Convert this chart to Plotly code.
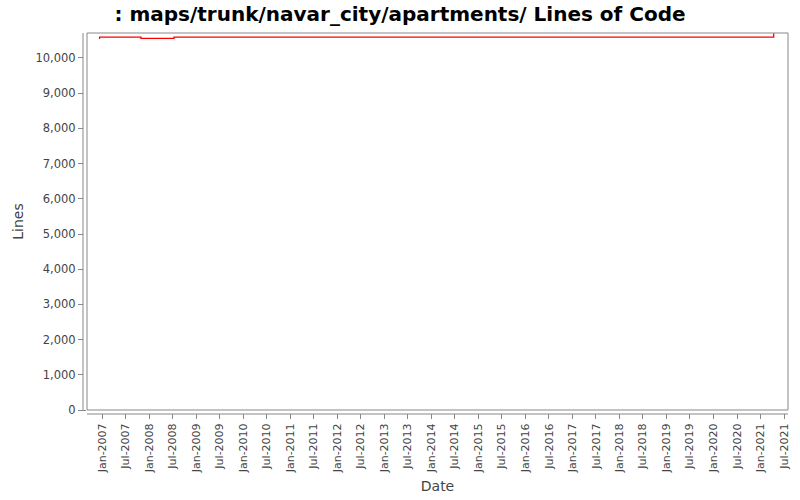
import plotly.graph_objects as go

# Lines of code history
dates = ["2006-12-05", "2006-12-10", "2007-10-27", "2008-07-10", "2021-04-12"]
lines = [10560, 10590, 10560, 10590, 10705]

tick_vals = [f"{y}-{m:02d}-01" for y in range(2007, 2022) for m in (1, 7)]
y_ticks = list(range(0, 11000, 1000))

AX = "#888888"
TXT = "#444444"
FONT = "DejaVu Sans"

fig = go.Figure()
fig.add_trace(go.Scatter(
    x=dates, y=lines, mode="lines",
    line=dict(color="#ff0000", width=1.3, shape="hv"),
    showlegend=False, hoverinfo="x+y",
))

fig.update_layout(
    width=800, height=500,
    margin=dict(l=87, r=12, t=33, b=90, autoexpand=False),
    paper_bgcolor="white", plot_bgcolor="white",
    font=dict(family=FONT, color=TXT),
    title=dict(
        text="<b>: maps/trunk/navar_city/apartments/ Lines of Code</b>",
        x=0.5, xanchor="center", y=0.972, yanchor="middle",
        font=dict(family=FONT, size=20, color="black"),
    ),
)

fig.update_xaxes(
    type="date", range=["2006-09-03", "2021-08-01"],
    tickvals=tick_vals, tickformat="%b-%Y", tickangle=-90,
    ticks="outside", ticklen=8, tickcolor=AX,
    tickfont=dict(size=11, color=TXT), automargin=False,
    showgrid=False, zeroline=False, showline=False,
    title=dict(text="Date", font=dict(size=14, color=TXT), standoff=8),
)
fig.update_yaxes(
    range=[0, 10710],
    tickvals=y_ticks, tickformat=",d",
    ticks="outside", ticklen=8, tickcolor=AX,
    tickfont=dict(size=11.5, color=TXT), automargin=False,
    showgrid=False, zeroline=False, showline=False,
    title=dict(text="Lines", font=dict(size=14, color=TXT), standoff=8),
)

# plot border and offset axis lines (JFreeChart look)
gx = 4 / 701
gy = 4 / 377
fig.add_shape(type="rect", xref="paper", yref="paper", x0=-gx, x1=0, y0=0, y1=1,
              fillcolor="white", line_width=0, layer="above")
fig.add_shape(type="rect", xref="paper", yref="paper", x0=0, x1=1, y0=-gy, y1=0,
              fillcolor="white", line_width=0, layer="above")
fig.add_shape(type="rect", xref="paper", yref="paper", x0=0, x1=1, y0=0, y1=1,
              line=dict(color=AX, width=1), layer="above")
fig.add_shape(type="line", xref="paper", yref="paper", x0=-gx, x1=-gx, y0=0, y1=1,
              line=dict(color=AX, width=1), layer="above")
fig.add_shape(type="line", xref="paper", yref="paper", x0=0, x1=1, y0=-gy, y1=-gy,
              line=dict(color=AX, width=1), layer="above")

fig.write_html("out.html", config={"displayModeBar": False},
               post_script="document.body.style.margin='0';")
